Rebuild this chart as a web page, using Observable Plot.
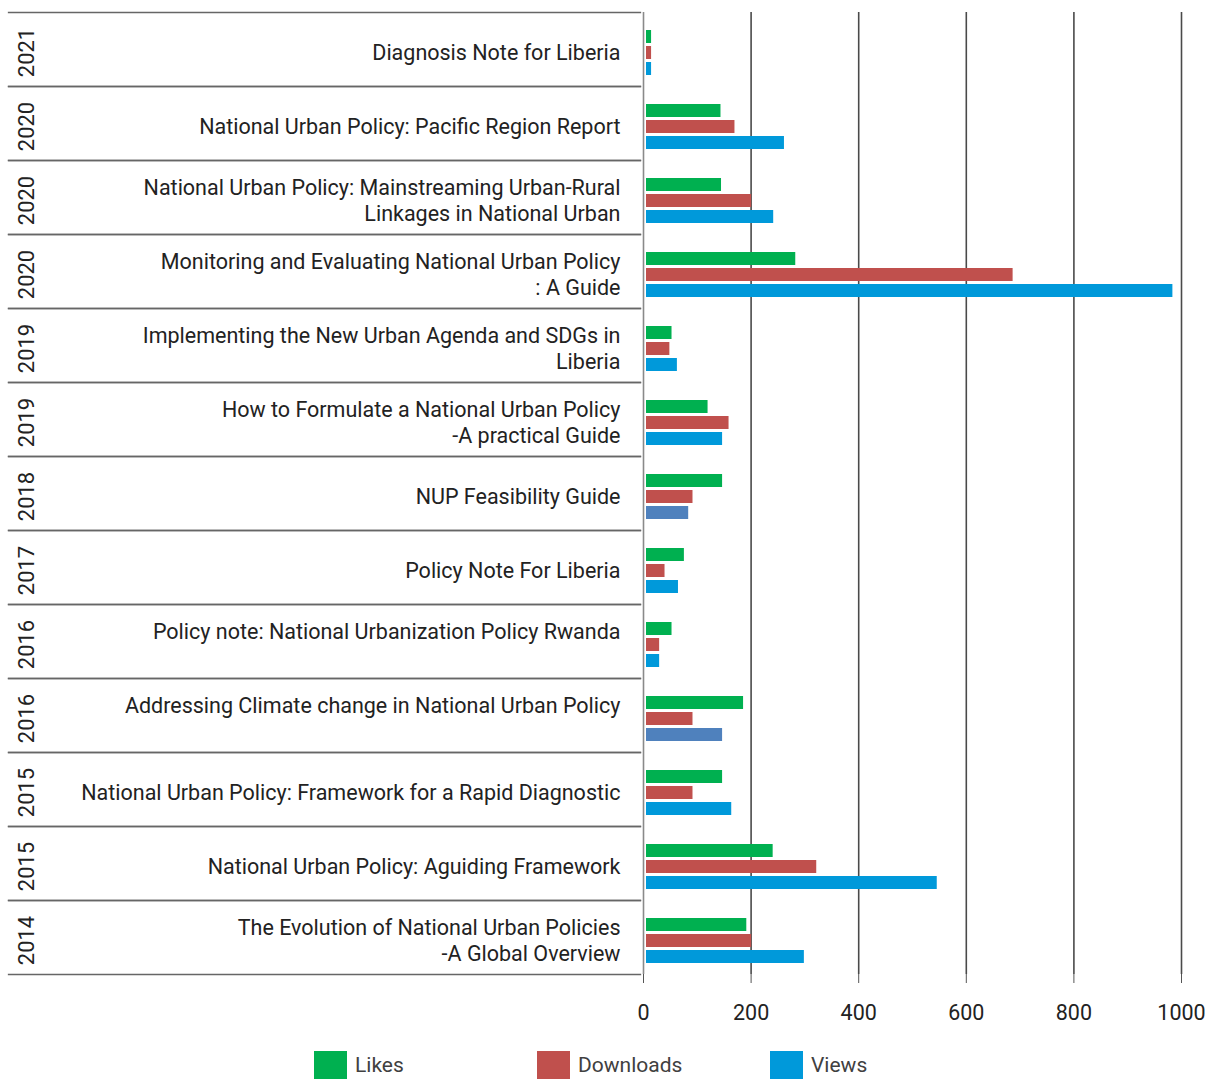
<!DOCTYPE html>
<html><head><meta charset="utf-8">
<script src="https://cdn.jsdelivr.net/npm/d3@7"></script>
<script src="https://cdn.jsdelivr.net/npm/@observablehq/plot@0.6"></script>
<style>
body{margin:0;background:#fff;overflow:hidden;font-family:Roboto,sans-serif}
#legend{position:relative;height:49px;width:1209px}
.item{position:absolute;top:21px;display:flex;align-items:center;font-size:21px;color:#404040;white-space:nowrap}
.sw{width:33px;height:28px;margin-right:8px}
</style></head><body><div id="chart"></div><div id="legend"></div>
<script>
const years = ["2021","2020","2020","2020","2019","2019","2018","2017","2016","2016","2015","2015","2014"];
const titles = [
  "Diagnosis Note for Liberia",
  "National Urban Policy: Pacific Region Report",
  "National Urban Policy: Mainstreaming Urban-Rural\nLinkages in National Urban",
  "Monitoring and Evaluating National Urban Policy\n: A Guide",
  "Implementing the New Urban Agenda and SDGs in\nLiberia",
  "How to Formulate a National Urban Policy\n-A practical Guide",
  "NUP Feasibility Guide",
  "Policy Note For Liberia",
  "Policy note: National Urbanization Policy Rwanda\n",
  "Addressing Climate change in National Urban Policy\n",
  "National Urban Policy: Framework for a Rapid Diagnostic",
  "National Urban Policy: Aguiding Framework",
  "The Evolution of National Urban Policies\n-A Global Overview"
];
const likes     = [15, 144, 145, 283, 53, 120, 147, 76, 53, 186, 147, 241, 192];
const downloads = [15, 170, 201, 687, 49, 159,  92, 40, 30,  92,  92, 322, 201];
const views     = [15, 262, 242, 984, 63, 147,  84, 65, 30, 147, 164, 546, 299];
const seriesNames = ["Likes", "Downloads", "Views"];
const xTicks = [0, 200, 400, 600, 800, 1000];
const altViewRows = [6, 9]; // rows whose Views bar uses the darker steel blue

const colors = {Likes: "#00B050", Downloads: "#C0504D", Views: "#0099DA"};
const altViewsColor = "#4F81BD";

const rows = titles.map((t, i) => ({key: String(i), year: years[i], title: t}));
const bars = rows.flatMap((r, i) => [
  {key: r.key, series: "Likes", value: likes[i], color: colors.Likes},
  {key: r.key, series: "Downloads", value: downloads[i], color: colors.Downloads},
  {key: r.key, series: "Views", value: views[i], color: altViewRows.includes(i) ? altViewsColor : colors.Views}
]);

const marginLeft = 643, sepLeft = 8, sepRight = 640;
const width = 1209, marginRight = 28;

const chart = Plot.plot({
  width, height: 1030,
  marginLeft, marginRight, marginTop: 12, marginBottom: 56,
  style: {fontFamily: "Roboto, sans-serif", fontSize: "21.5px", color: "#222", background: "#fff"},
  fy: {domain: rows.map(d => d.key), padding: 0, axis: null},
  y: {domain: seriesNames, paddingInner: 0.19, paddingOuter: 0, insetTop: 18, insetBottom: 11, axis: null},
  x: {domain: [0, 1000], axis: null},
  marks: [
    Plot.ruleX(xTicks.slice(1), {stroke: "#4a4a4a", strokeWidth: 1.6}),
    Plot.ruleX([0], {stroke: "#8a8a8a", strokeWidth: 1.6}),
    Plot.barX(bars, {fy: "key", y: "series", x: "value", fill: "color", insetLeft: 3}),
    Plot.frame({anchor: "top", stroke: "#666", strokeWidth: 1.3, insetLeft: -(marginLeft - sepLeft), insetRight: (width - marginRight) - sepRight}),
    Plot.frame({anchor: "bottom", stroke: "#666", strokeWidth: 1.3, insetLeft: -(marginLeft - sepLeft), insetRight: (width - marginRight) - sepRight}),
    Plot.text(rows, {fy: "key", text: "title", frameAnchor: "left", textAnchor: "end", dx: -23, dy: 2, lineHeight: 1.2, fill: "#222"}),
    Plot.text(rows, {fy: "key", text: "year", frameAnchor: "left", textAnchor: "middle", rotate: -90, dx: -(marginLeft - 26), dy: 3, fontSize: 22, fill: "#222"}),
    Plot.axisX({ticks: xTicks, tickSize: 9, tickPadding: 21, stroke: "#555", fill: "#222", label: null, tickFormat: d => String(d)})
  ]
});
document.getElementById("chart").appendChild(chart);

const legend = document.getElementById("legend");
const legendLeft = [314, 537, 770];
seriesNames.forEach((s, i) => {
  const it = document.createElement("div");
  it.className = "item";
  it.style.left = legendLeft[i] + "px";
  it.innerHTML = `<div class="sw" style="background:${colors[s]}"></div><span>${s}</span>`;
  legend.appendChild(it);
});
</script></body></html>
